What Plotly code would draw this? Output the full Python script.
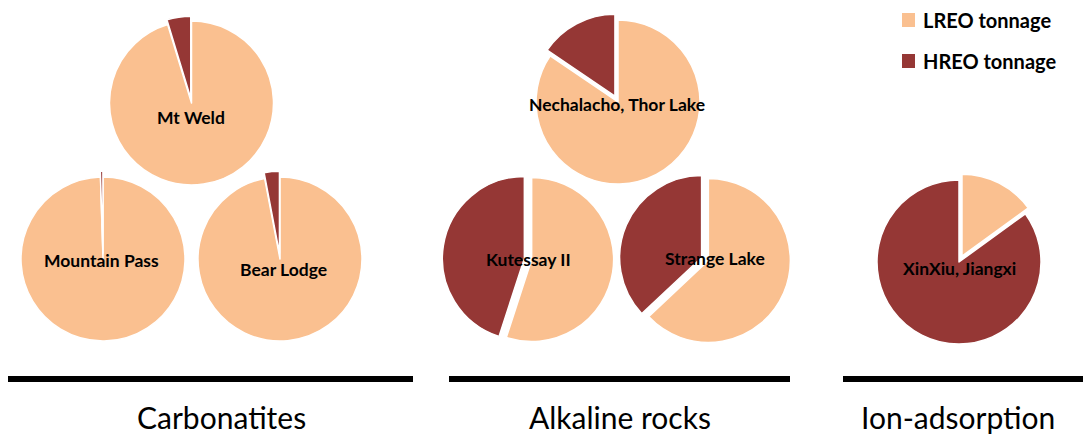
import plotly.graph_objects as go

W, H = 1083, 443

# ---- data ----
series_labels = ["LREO tonnage", "HREO tonnage"]
deposits = ["Mt Weld", "Mountain Pass", "Bear Lodge",
            "Nechalacho, Thor Lake", "Kutessay II", "Strange Lake",
            "XinXiu, Jiangxi"]
lreo_share = [95.3, 99.5, 97.0, 84.5, 55.0, 63.0, 15.0]
hreo_share = [4.7, 0.5, 3.0, 15.5, 45.0, 37.0, 85.0]
groups = ["Carbonatites", "Alkaline rocks", "Ion-adsorption"]

# ---- style / layout ----
C_LREO = "#FAC090"
C_HREO = "#953735"
colors = [C_LREO, C_HREO]

R = 82
centers = [(191.5, 103), (103, 259), (280, 259),
           (618, 102), (528, 259), (705, 259),
           (959, 262)]
pulls = [[0, 0.06], [0, 0.07], [0, 0.07],
         [0, 0.08], [0.045, 0.045], [0.045, 0.045],
         [0.08, 0]]
label_pos = [(191, 117), (101, 260), (283, 269),
             (617, 104), (528, 259), (715, 258),
             (959, 268)]
group_x = [221, 620, 958]
group_lines = [(8, 413), (449, 790), (843, 1083)]

fig = go.Figure()
for name, lv, hv, (cx, cy), pl in zip(deposits, lreo_share, hreo_share, centers, pulls):
    half = R * (1 + max(pl))
    fig.add_trace(go.Pie(
        labels=series_labels, values=[lv, hv], name=name,
        sort=False, direction="clockwise", rotation=0,
        pull=pl, textinfo="none", hoverinfo="label+percent+name",
        marker=dict(colors=colors, line=dict(color="white", width=1.5)),
        domain=dict(x=[(cx - half) / W, (cx + half) / W],
                    y=[1 - (cy + half) / H, 1 - (cy - half) / H]),
        showlegend=False,
    ))

annotations = []
for name, (x, y) in zip(deposits, label_pos):
    annotations.append(dict(
        x=x / W, y=1 - y / H, xref="paper", yref="paper", text=name,
        showarrow=False, xanchor="center", yanchor="middle",
        font=dict(family="Lato", size=17.5, color="black", weight="bold")))

for g, x in zip(groups, group_x):
    annotations.append(dict(
        x=x / W, y=1 - 417 / H, xref="paper", yref="paper", text=g,
        showarrow=False, xanchor="center", yanchor="middle",
        font=dict(family="Lato", size=30, color="black")))

shapes = []
for x0, x1 in group_lines:
    shapes.append(dict(type="line", xref="paper", yref="paper",
                       x0=x0 / W, x1=x1 / W, y0=1 - 379 / H, y1=1 - 379 / H,
                       line=dict(color="black", width=6)))

# manual legend
leg_rows = [20, 61]
for lab, col, yc in zip(series_labels, colors, leg_rows):
    shapes.append(dict(type="rect", xref="paper", yref="paper",
                       x0=902 / W, x1=915 / W, y0=1 - (yc + 7) / H, y1=1 - (yc - 7) / H,
                       fillcolor=col, line=dict(width=0)))
    annotations.append(dict(
        x=921 / W, y=1 - yc / H, xref="paper", yref="paper", text=lab,
        showarrow=False, xanchor="left", yanchor="middle",
        font=dict(family="Lato", size=20, color="black", weight="bold")))

fig.update_layout(
    width=W, height=H,
    margin=dict(l=0, r=0, t=0, b=0),
    paper_bgcolor="white", plot_bgcolor="white",
    annotations=annotations, shapes=shapes,
    showlegend=False,
)

fig.write_html("out.html",
               config={"displayModeBar": False},
               post_script="document.body.style.margin='0';document.body.style.overflow='hidden';")
